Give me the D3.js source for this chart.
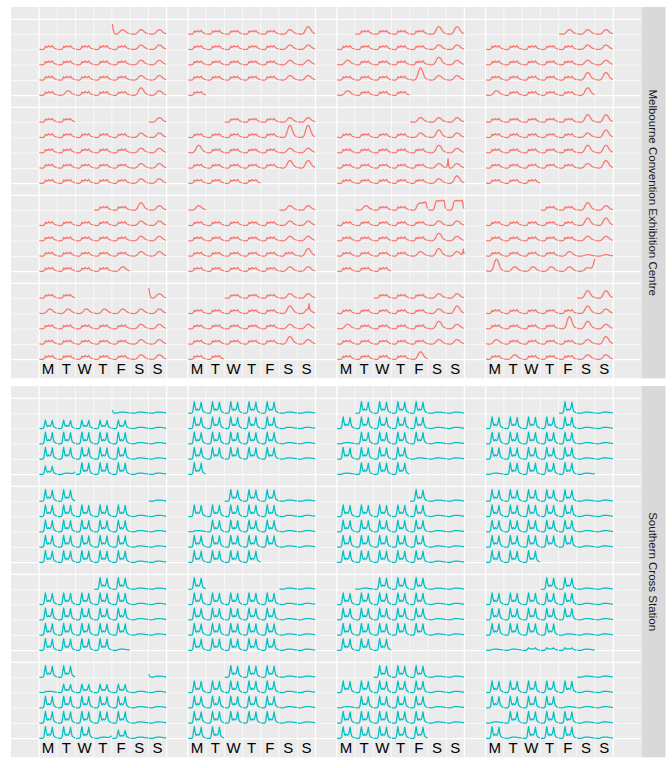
<!DOCTYPE html>
<html>
<head>
<meta charset="utf-8">
<script src="https://cdn.jsdelivr.net/npm/d3@7"></script>
<style>
  body { margin: 0; background: #fff; }
  text { font-family: "Liberation Sans", Arial, Helvetica, sans-serif; }
</style>
</head>
<body>
<div id="chart"></div>
<script>
// ---- data ----
const months = ["2016-01","2016-02","2016-03","2016-04","2016-05","2016-06","2016-07","2016-08",
                "2016-09","2016-10","2016-11","2016-12","2017-01","2017-02","2017-03","2017-04"];
const dayLabels = ["M", "T", "W", "T", "F", "S", "S"];
const sensors = ["Melbourne Convention Exhibition Centre", "Southern Cross Station"];

// hourly counts (hours 0-23) for the day shapes seen at each sensor
const mcecWeekday  = [60,30,15,10,10,20,90,320,700,480,590,520,800,640,610,520,680,820,540,400,280,210,140,90];
const mcecWeekend  = [110,60,35,20,12,12,30,80,170,330,520,720,860,930,950,910,830,700,540,400,300,230,170,120];
const mcecHigh     = [140,80,45,25,15,15,40,110,250,500,820,1150,1400,1550,1580,1500,1320,1080,800,560,400,300,220,150];
const mcecEvent    = [150,90,50,25,15,15,40,120,300,650,1150,1700,2200,2500,2550,2400,2050,1600,1100,700,450,320,230,160];
const mcecPlateau  = [120,70,40,25,15,20,60,200,500,900,1200,1400,1450,1500,1550,1500,1600,1550,1650,1600,1700,1600,800,350];
const mcecPlateau2 = [150,80,40,25,15,20,60,200,600,1300,1900,2000,1950,2050,1900,2000,2050,1950,2000,2100,1950,2000,700,300];
const mcecNewYear  = [2150,1100,450,150,60,30,40,90,200,380,560,720,840,900,920,880,800,680,520,390,290,220,160,110];
const mcecNyeEve   = [100,60,30,20,10,10,30,80,170,300,450,600,700,760,780,760,720,650,650,750,1000,1400,1900,2600];
const mcecLow      = [80,40,20,10,8,8,15,40,80,130,180,230,270,290,300,290,270,240,200,160,130,100,80,60];
const mcecSpikeAm  = [120,700,2000,300,20,12,30,80,170,330,520,720,860,930,950,910,830,700,540,400,300,230,170,120];
const mcecSpikePm  = [110,60,35,20,12,12,30,80,170,330,520,720,860,930,950,910,830,700,540,400,300,600,1500,400];
const mcecSpikeMid = [110,60,35,20,12,12,30,80,170,330,520,720,860,930,950,2100,830,700,540,400,300,230,170,120];

const scsCommute   = [60,25,10,5,10,80,600,2600,4100,2300,1200,1050,1500,1250,1100,1450,2400,3900,2100,900,600,400,250,130];
const scsLowWeek   = [45,18,8,4,8,60,430,1870,2950,1580,860,790,1080,940,790,1010,1730,2810,1440,650,430,290,180,95];
const scsQuietWeek = [40,15,8,4,6,40,200,600,950,700,500,480,560,520,480,520,700,900,600,350,250,180,120,80];
const scsFlat      = [120,60,30,15,15,30,80,150,250,320,380,420,440,440,420,400,380,340,300,260,220,180,150,110];
const scsNewYear   = [1100,400,120,40,20,30,80,150,250,320,380,420,440,440,420,400,380,340,300,260,220,180,150,110];
const scsFlatRise  = [120,60,30,15,15,30,80,150,250,320,380,420,440,440,420,400,380,340,300,320,380,480,650,900];

// day codes per month, one letter a day (spaces only split the weeks)
const mcecDays = [
  "nee wwwwwee wwwwwee wwwwwee wewwwhe",
  "wwwwweh wwwwwee wwwwwee wwwwwee w",
  "wwwwhh wwwwwee ewwwwhe wwwwHee ewww",
  "eee wwwwwee wwwwwee wwwwwhh ewwwwh",
  "e wwwwwee wwwwwee wwwwwee wwwwwee ww",
  "wwwee wwwwwHH hwwwwee wwwwwhh wwww",
  "eee wwwwehe wwwwwhe wwwwwek wwwwweh",
  "wwwwwhh wwwwweh wwwwwhh wwwwweh www",
  "wwhe wwwwwee wwwwwee wwwwwee wwwwe",
  "ee wwwwwee wwwwwee wwwwwwh wwwwwee e",
  "ewwpPP wwwwwee wwwwwhe wwwwehj www",
  "wwhe wwwwwhh wwwwwee wwwwell Heeeer",
  "n eeeeeee wwwwwee wwwwwee wwwwwee ww",
  "wwwee wwwwwhq wwwwwee wwwwwhe ww",
  "wwwee wwwwweh ewwwwhe wwwwwee wwwwh",
  "hh wwwwwhe wwwwHhe ewwwweh wewwwee"
];
const scsDays = [
  "nff lllllff cccccff cccccff lsccc ff",
  "cccccff cccccff cccccff cccccff c",
  "ccccff cccccff fccccff ccccfff fccc",
  "cff cccccff cccccff cccccff fccccf",
  "f cccccff cccccff cccccff cccccff cc",
  "cccff cccccff fccccff cccccff cccc",
  "cff cccccff cccccff cccccff cccccff",
  "cccccff cccccff cccccff cccccff ccc",
  "ccff cccccff cccccff cccccff ccccf",
  "ff cccccff cccccff cccccff cccccff c",
  "fcccff cccccff cccccff cccccff ccc",
  "ccff cccccff cccccff ccccfff ffvvvf",
  "n fllllff cccccff cccccff cccslff cc",
  "cccff cccccff cccccff cccccff cc",
  "cccff cccccff fccccff cccccff ccccc",
  "ff cccccff ccccfff fccccff cfcccff"
];

const profiles = [
  {w: mcecWeekday, e: mcecWeekend, h: mcecHigh, H: mcecEvent, p: mcecPlateau, P: mcecPlateau2,
   n: mcecNewYear, r: mcecNyeEve, l: mcecLow, k: mcecSpikeAm, j: mcecSpikePm, q: mcecSpikeMid},
  {c: scsCommute, l: scsLowWeek, v: scsQuietWeek, f: scsFlat, n: scsNewYear, s: scsFlatRise}
];
const dayCodes = [mcecDays, scsDays];
const maxCount = [3000, 5000];

// ---- layout ----
const config = {
  width: 672, height: 768,
  panelLeft: 11, panelRight: 641.5,
  panelTops: [7, 386], panelHeight: 371.3,
  stripWidth: 24,
  calLeft: 39, calRight: 613.3,
  calTopOffset: 12.3, calBottomOffset: 352.7,
  labelOffset: 361.5,
  gapX: 1.165, gapY: 0.76,
  colours: ["#F8766D", "#00BFC4"]
};

const svg = d3.select("#chart").append("svg")
    .attr("width", config.width)
    .attr("height", config.height);

const calW = 4 * 7 + 3 * config.gapX;
const calH = 4 * 5 + 3 * config.gapY;
const xScale = d3.scaleLinear().domain([0, calW]).range([config.calLeft, config.calRight]);
const hourScale = d3.scaleLinear().domain([0, 23]).range([0.02, 0.98]);

// build day records
function buildDays(s) {
  const out = [];
  months.forEach((m, mi) => {
    const [yy, mm] = m.split("-").map(Number);
    const codes = dayCodes[s][mi].replace(/\s/g, "");
    const nDays = new Date(Date.UTC(yy, mm, 0)).getUTCDate();
    const first = (new Date(Date.UTC(yy, mm - 1, 1)).getUTCDay() + 6) % 7;
    for (let d = 1; d <= nDays; d++) {
      const code = codes[d - 1];
      if (!code || code === ".") continue;
      const wd = (first + d - 1) % 7;
      let week = Math.floor((d - 1 + first) / 7);
      if (week >= 5) week -= 5;   // 6th week wraps to the top row
      out.push({
        month: mi, day: d, wd: wd, week: week,
        bx: (mi % 4) * (7 + config.gapX),
        by: Math.floor(mi / 4) * (5 + config.gapY),
        values: profiles[s][code]
      });
    }
  });
  return out;
}

sensors.forEach((name, s) => {
  const top = config.panelTops[s];
  const yScale = d3.scaleLinear().domain([0, calH])
      .range([top + config.calTopOffset, top + config.calBottomOffset]);
  const vScale = d3.scaleLinear().domain([0, maxCount[s]]).range([0.98, 0.04]);

  const g = svg.append("g");

  g.append("rect")
      .attr("x", config.panelLeft)
      .attr("y", top)
      .attr("width", config.panelRight - config.panelLeft)
      .attr("height", config.panelHeight)
      .attr("fill", "#EBEBEB");

  // grid lines: thin inside each month, thick at month edges
  const vLines = [], hLines = [];
  for (let c = 0; c < 4; c++) {
    for (let k = 0; k <= 7; k++) vLines.push({v: c * (7 + config.gapX) + k, major: k === 0 || k === 7});
  }
  for (let r = 0; r < 4; r++) {
    for (let k = 0; k <= 5; k++) hLines.push({v: r * (5 + config.gapY) + k, major: k === 0 || k === 5});
  }
  g.selectAll(".vgrid").data(vLines).join("line")
      .attr("x1", d => xScale(d.v)).attr("x2", d => xScale(d.v))
      .attr("y1", top).attr("y2", top + config.panelHeight)
      .attr("stroke", "#fff")
      .attr("stroke-width", d => d.major ? 1.3 : 0.65);
  g.selectAll(".hgrid").data(hLines).join("line")
      .attr("y1", d => yScale(d.v)).attr("y2", d => yScale(d.v))
      .attr("x1", config.panelLeft).attr("x2", config.panelRight)
      .attr("stroke", "#fff")
      .attr("stroke-width", d => d.major ? 1.3 : 0.65);

  // one line per day
  const line = d3.line()
      .x(d => d[0])
      .y(d => d[1]);
  g.selectAll(".day").data(buildDays(s)).join("path")
      .attr("fill", "none")
      .attr("stroke", config.colours[s])
      .attr("stroke-width", 1.25)
      .attr("stroke-linejoin", "round")
      .attr("d", d => line(d.values.map((v, h) => [
        xScale(d.bx + d.wd + hourScale(h)),
        yScale(d.by + d.week + vScale(v))
      ])));

  // weekday labels under the last row of months
  const labels = [];
  for (let c = 0; c < 4; c++) dayLabels.forEach((t, i) => labels.push({t: t, v: c * (7 + config.gapX) + i + 0.5}));
  g.selectAll(".lab").data(labels).join("text")
      .attr("x", d => xScale(d.v))
      .attr("y", top + config.labelOffset)
      .attr("dy", "0.36em")
      .attr("text-anchor", "middle")
      .attr("font-size", 15)
      .attr("fill", "#000")
      .text(d => d.t);

  // strip
  g.append("rect")
      .attr("x", config.panelRight)
      .attr("y", top)
      .attr("width", config.stripWidth)
      .attr("height", config.panelHeight)
      .attr("fill", "#D9D9D9");
  g.append("text")
      .attr("transform", `translate(${config.panelRight + config.stripWidth / 2},${top + config.panelHeight / 2}) rotate(90)`)
      .attr("text-anchor", "middle")
      .attr("dy", "0.35em")
      .attr("font-size", 11.5)
      .attr("fill", "#1A1A1A")
      .text(name);
});
</script>
</body>
</html>
